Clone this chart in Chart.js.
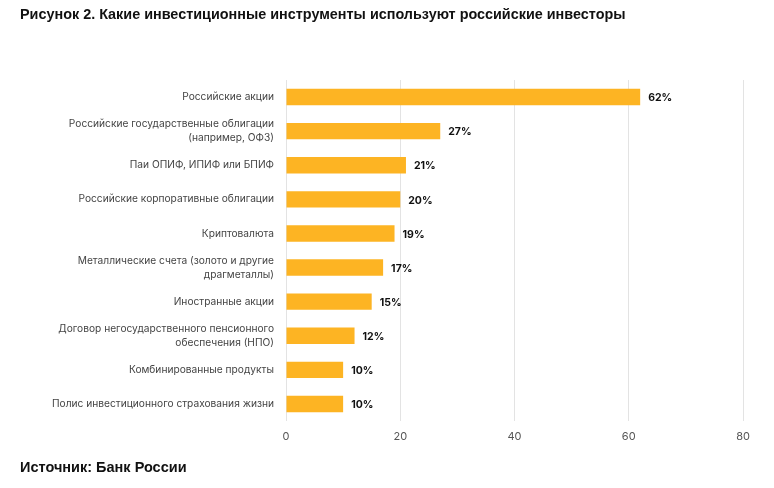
<!DOCTYPE html>
<html>
<head>
<meta charset="utf-8">
<script src="https://cdn.jsdelivr.net/npm/chart.js@4"></script>
<style>
  body { margin: 0; background: #fff; }
  #wrap { position: relative; width: 774px; height: 488px; }
  #titulo { position: absolute; left: 20px; top: 6px; font-family: "Liberation Sans", Arial, sans-serif; font-weight: bold; font-size: 14.4px; color: #111; white-space: nowrap; }
  #fonte { position: absolute; left: 20px; top: 459px; font-family: "Liberation Sans", Arial, sans-serif; font-weight: bold; font-size: 14.5px; color: #111; }
  #grafico { position: absolute; left: 0; top: 0; }
</style>
</head>
<body>
<div id="wrap">
  <canvas id="grafico" width="774" height="488"></canvas>
  <div id="titulo">Рисунок 2. Какие инвестиционные инструменты используют российские инвесторы</div>
  <div id="fonte">Источник: Банк России</div>
</div>
<script>
var categorias = [
    "Российские акции",
    ["Российские государственные облигации", "(например, ОФЗ)"],
    "Паи ОПИФ, ИПИФ или БПИФ",
    "Российские корпоративные облигации",
    "Криптовалюта",
    ["Металлические счета (золото и другие", "драгметаллы)"],
    "Иностранные акции",
    ["Договор негосударственного пенсионного", "обеспечения (НПО)"],
    "Комбинированные продукты",
    "Полис инвестиционного страхования жизни"
];
var valores = [62, 27, 21, 20, 19, 17, 15, 12, 10, 10];
var ticksX = [0, 20, 40, 60, 80];

// escreve o % no fim de cada barra
var rotulosBarras = {
    id: "rotulosBarras",
    afterDatasetsDraw: function (chart) {
        var ctx = chart.ctx;
        var meta = chart.getDatasetMeta(0);
        ctx.save();
        ctx.font = "bold 10.5px Inter, sans-serif";
        ctx.fillStyle = "#111";
        ctx.textBaseline = "middle";
        for (var i = 0; i < meta.data.length; i++) {
            var barra = meta.data[i];
            ctx.fillText(valores[i] + "%", barra.x + 8, barra.y + 1);
        }
        ctx.restore();
    }
};

var ctx = document.getElementById("grafico").getContext("2d");
new Chart(ctx, {
    type: "bar",
    data: {
        labels: categorias,
        datasets: [{
            data: valores,
            backgroundColor: "#fdb423",
            barPercentage: 0.48,
            categoryPercentage: 1
        }]
    },
    options: {
        indexAxis: "y",
        responsive: false,
        animation: false,
        layout: { padding: { top: 80, right: 31, bottom: 37, left: 0 } },
        scales: {
            x: {
                min: 0,
                max: 80,
                afterBuildTicks: function (axis) {
                    axis.ticks = ticksX.map(function (v) { return { value: v }; });
                },
                afterFit: function (axis) { axis.height = 30; },
                grid: { color: "#e3e3e3", drawTicks: false },
                border: { display: false },
                ticks: { color: "#555", padding: 9, font: { family: "Inter", size: 11 } }
            },
            y: {
                afterFit: function (axis) { axis.width = 286; },
                grid: { display: false, drawTicks: false },
                border: { display: false },
                ticks: { color: "#444", padding: 12, font: { family: "Inter", size: 10.2, lineHeight: 1.38 }, autoSkip: false }
            }
        },
        plugins: {
            legend: { display: false },
            tooltip: { enabled: false }
        }
    },
    plugins: [rotulosBarras]
});
</script>
</body>
</html>
